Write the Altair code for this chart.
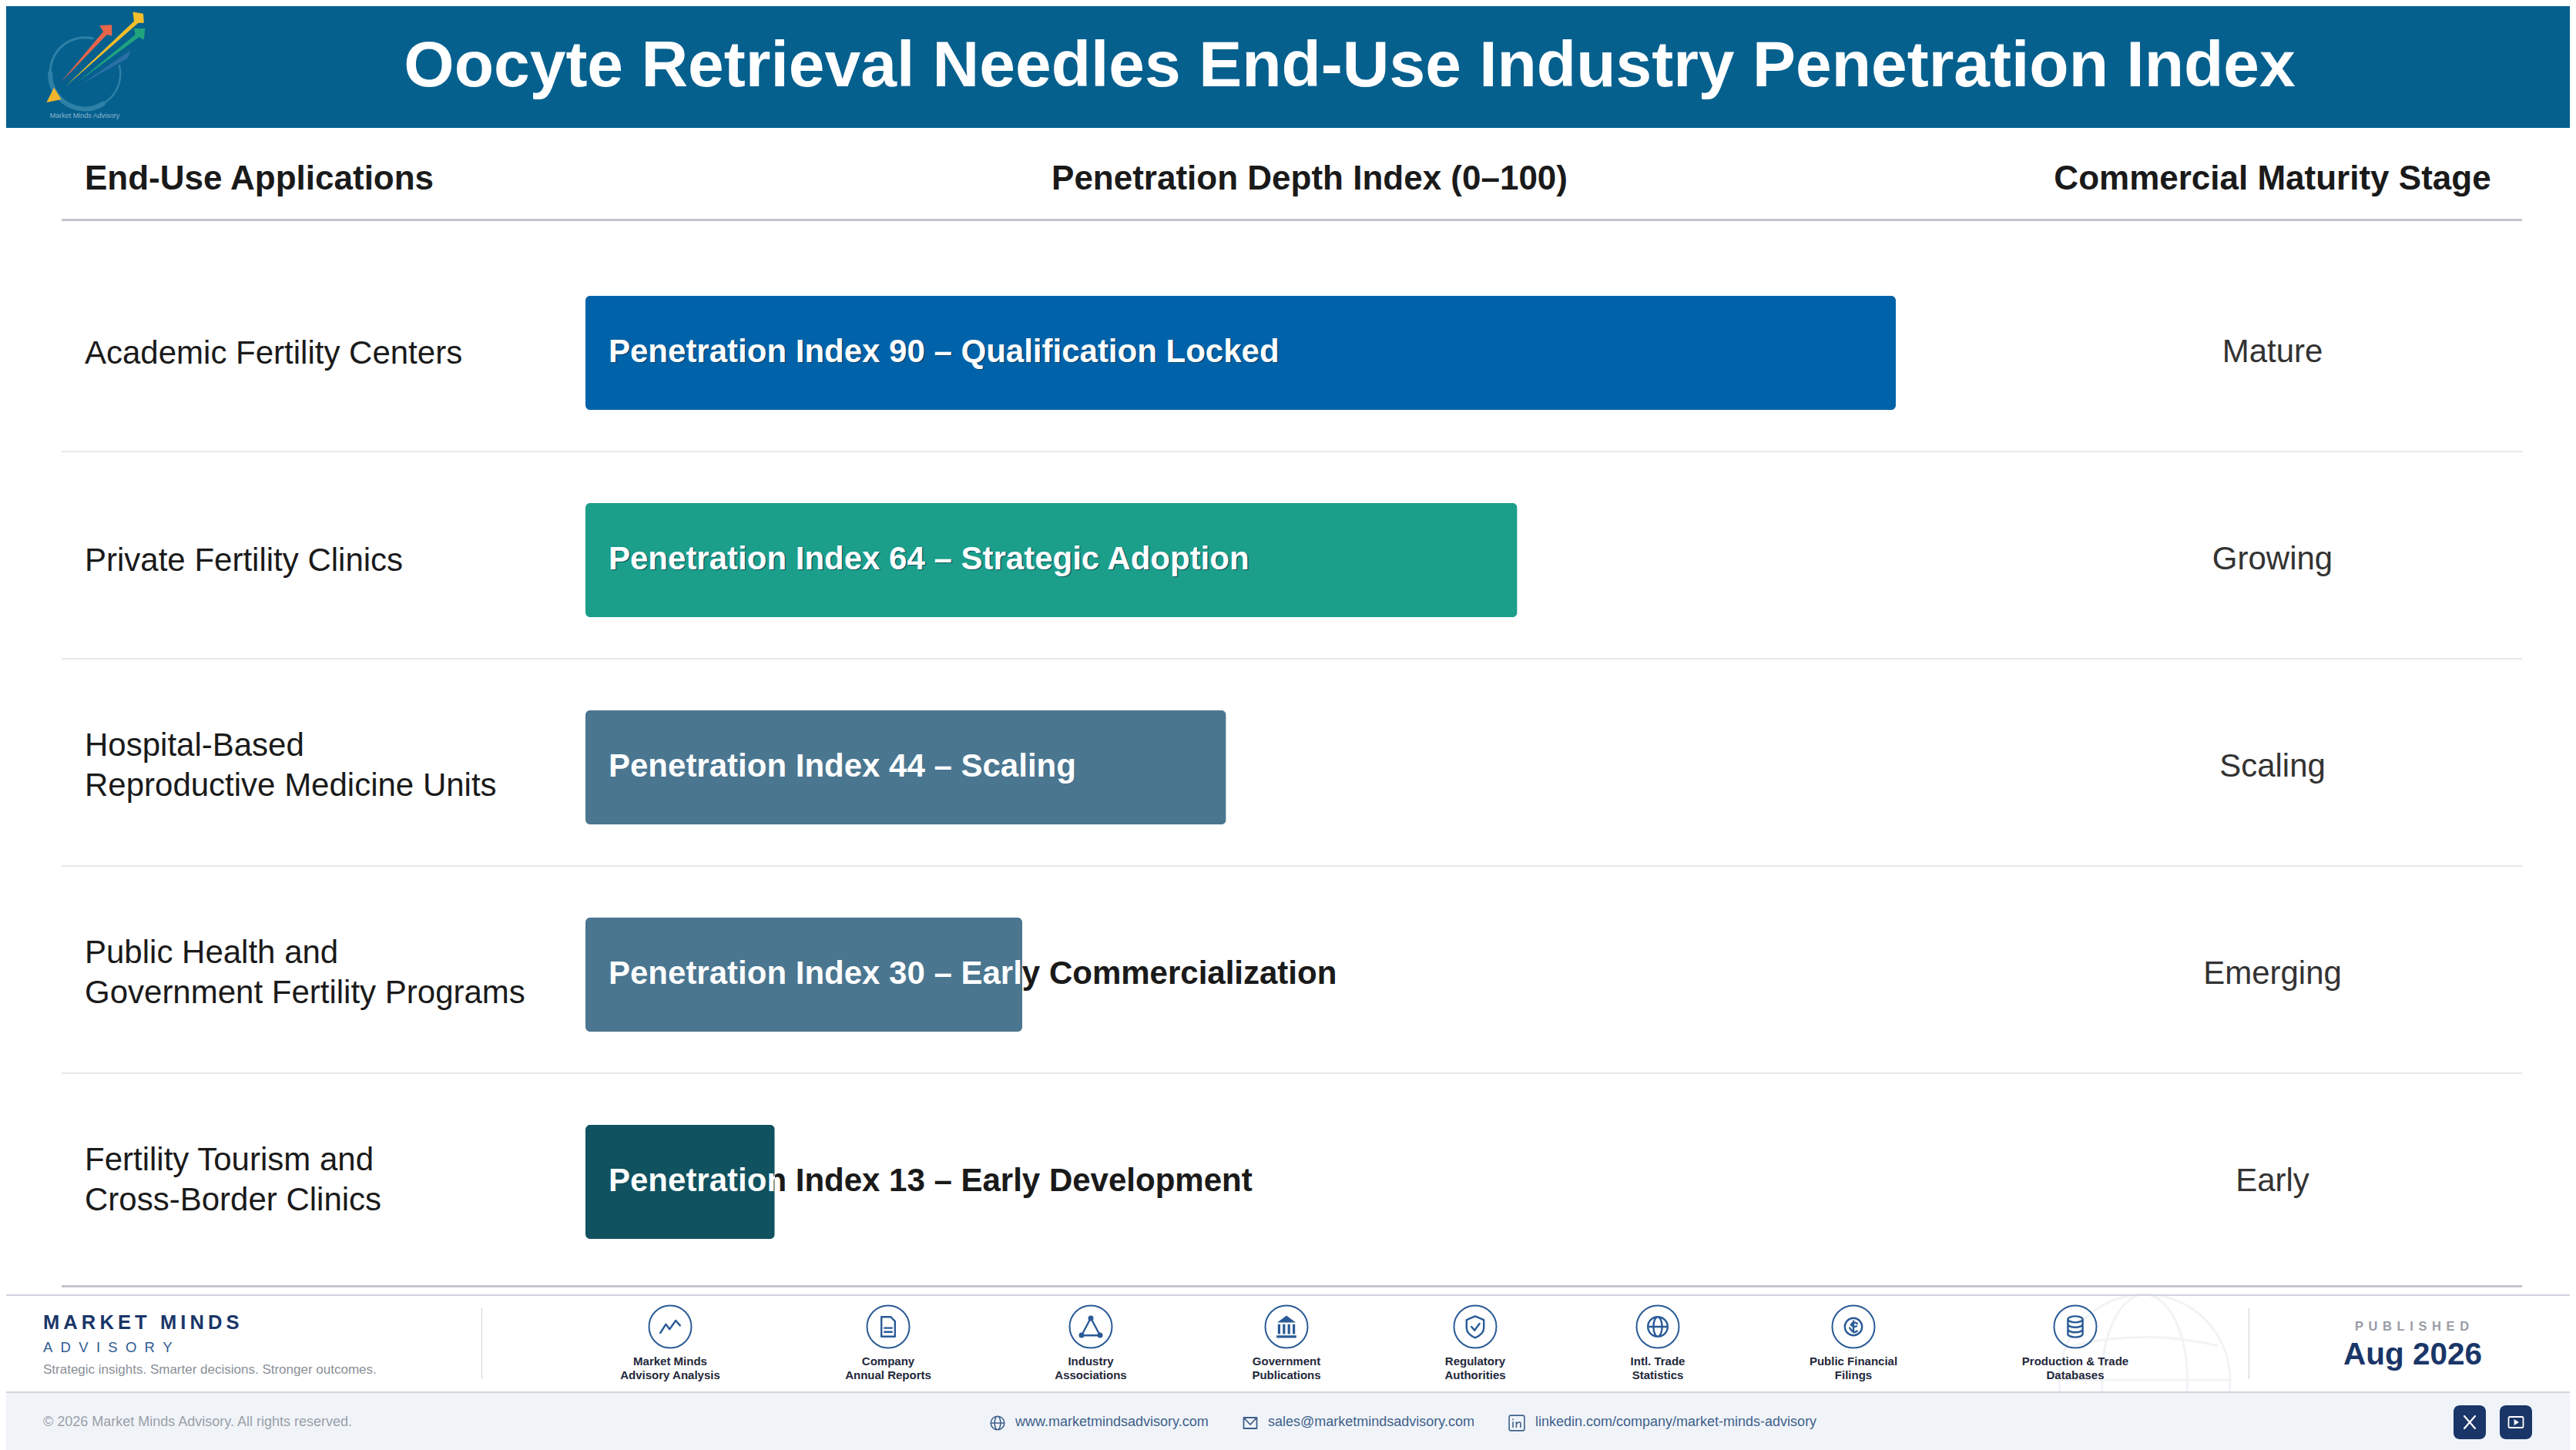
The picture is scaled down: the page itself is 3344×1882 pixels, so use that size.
import altair as alt
import pandas as pd

applications = [
    "Academic Fertility Centers",
    "Private Fertility Clinics",
    "Hospital-Based\nReproductive Medicine Units",
    "Public Health and\nGovernment Fertility Programs",
    "Fertility Tourism and\nCross-Border Clinics",
]
index_values = [90, 64, 44, 30, 13]
bar_labels = [
    "Penetration Index 90 – Qualification Locked",
    "Penetration Index 64 – Strategic Adoption",
    "Penetration Index 44 – Scaling",
    "Penetration Index 30 – Early Commercialization",
    "Penetration Index 13 – Early Development",
]
stages = ["Mature", "Growing", "Scaling", "Emerging", "Early"]
bar_colors = ["#0063A9", "#1B9E8A", "#4A7690", "#4A7690", "#10525F"]

source_labels = [
    "Market Minds\nAdvisory Analysis",
    "Company\nAnnual Reports",
    "Industry\nAssociations",
    "Government\nPublications",
    "Regulatory\nAuthorities",
    "Intl. Trade\nStatistics",
    "Public Financial\nFilings",
    "Production & Trade\nDatabases",
]
source_x = [870, 1153, 1416, 1670, 1915, 2152, 2406, 2694]

W, H = 3328, 1874
OFF = 8  # page margin, positions below are page pixels
FONT = "Liberation Sans"
NAVY = "#1A3668"
ICON = "#2A5B96"
DARK = "#1A1A1A"
TEXT_X = 790
PX_PER_UNIT = 18.9
BAR_X = 760

one = pd.DataFrame({"a": [0]})
layers = []


def rect(x1, x2, y1, y2, color, radius=0):
    layers.append(alt.Chart(one).mark_rect(color=color, cornerRadius=radius).encode(
        x=alt.value(x1 - OFF), x2=alt.value(x2 - OFF),
        y=alt.value(y1 - OFF), y2=alt.value(y2 - OFF)))


def label(text, x, y, size, color=DARK, bold=False, align="left", line_height=None):
    kw = {"lineHeight": line_height, "lineBreak": "\n"} if line_height else {}
    layers.append(alt.Chart(pd.DataFrame({"t": [text]})).mark_text(
        font=FONT, fontSize=size, color=color, align=align, baseline="middle",
        fontWeight="bold" if bold else "normal", **kw
    ).encode(x=alt.value(x - OFF), y=alt.value(y - OFF), text="t:N"))


def glyph(path, x, y, box, color=ICON, sw=2.0, filled=False):
    mark = dict(shape=path, size=box * box, opacity=1, filled=filled)
    if filled:
        mark.update(fill=color, strokeWidth=0)
    else:
        mark.update(stroke=color, strokeWidth=sw, strokeCap="round", strokeJoin="round")
    layers.append(alt.Chart(one).mark_point(**mark).encode(
        x=alt.value(x - OFF), y=alt.value(y - OFF)))


# header band and logo
rect(0, 3344, 0, 166, "#05608E")
logo_x, logo_y, logo_box = 110, 85, 160
glyph("M.125,-.44 A.5625,.5625 0 0 0 -.56,.125", logo_x, logo_y, logo_box, color="#2E80A6", sw=3)
glyph("M-.56,.125 A.5625,.5625 0 0 0 .3,.62", logo_x, logo_y, logo_box, color="#2E80A6", sw=6)
glyph("M.3,.62 A.5625,.5625 0 0 0 .5625,.0", logo_x, logo_y, logo_box, color="#2E80A6", sw=2.5)
glyph("M-.39,.275 L.3,-.55 L.24,-.65 L.44,-.66 L.44,-.48 L.36,-.5 Z", logo_x, logo_y, logo_box, "#E8654A", filled=True)
glyph("M-.325,.35 L.8,-.72 L.78,-.87 L.95,-.84 L.96,-.69 L.87,-.69 Z", logo_x, logo_y, logo_box, "#F4BE2C", filled=True)
glyph("M-.125,.275 L.82,-.5 L.8,-.6 L.98,-.6 L.96,-.42 L.88,-.46 Z", logo_x, logo_y, logo_box, "#1FA37D", filled=True)
glyph("M-.05,.3 L.75,-.25 L.7,-.12 Z", logo_x, logo_y, logo_box, "#2A6FA5", filled=True)
glyph("M-.62,.6 L-.5,.36 L-.38,.55 Z", logo_x, logo_y, logo_box, "#F4B52C", filled=True)
label("Market Minds Advisory", 110, 150, 9, color="#8FB4CC", align="center")
label("Oocyte Retrieval Needles End-Use Industry Penetration Index", 1752, 87, 84,
      color="white", bold=True, align="center")

# column headers and rules
label("End-Use Applications", 110, 233, 44, bold=True)
label("Penetration Depth Index (0–100)", 1700, 233, 44, bold=True, align="center")
label("Commercial Maturity Stage", 2950, 233, 44, bold=True, align="center")
rect(80, 3274, 284, 287, "#C4C4CC")
for sep_y in [585, 854, 1123, 1392]:
    rect(80, 3274, sep_y, sep_y + 2, "#E8E8E8")
rect(80, 3274, 1668, 1671, "#C4C4CC")

# rows
rows = pd.DataFrame({
    "application": applications,
    "value": index_values,
    "bar_label": bar_labels,
    "stage": stages,
    "color": bar_colors,
})
x_scale = alt.Scale(domain=[0, 100], range=[BAR_X - OFF, BAR_X - OFF + 100 * PX_PER_UNIT], nice=False)
y_scale = alt.Scale(domain=applications, range=[376, 1600], paddingInner=0.45, paddingOuter=0)
y_enc = alt.Y("application:N", scale=y_scale, axis=None)

layers.append(alt.Chart(rows).mark_bar(cornerRadius=6).encode(
    x=alt.X("value:Q", scale=x_scale, axis=None),
    y=y_enc,
    color=alt.Color("color:N", scale=None),
))
two_line = rows["application"].str.contains("\n")
for subset, shift in [(rows[~two_line], 1), (rows[two_line], -28)]:
    layers.append(alt.Chart(subset).mark_text(
        font=FONT, fontSize=42, color=DARK, align="left", baseline="middle",
        lineBreak="\n", lineHeight=52, dy=shift
    ).encode(x=alt.value(110 - OFF), y=y_enc, text="application:N"))
layers.append(alt.Chart(rows).mark_text(
    font=FONT, fontSize=42, color="#333333", align="center", baseline="middle", dy=-1
).encode(x=alt.value(2950 - OFF), y=y_enc, text="stage:N"))

# bar labels run past the short bars, white over the bar and dark after it
label_widths = [870, 830, 608, 945, 836]
for i, row in rows.iterrows():
    split = (BAR_X + row["value"] * PX_PER_UNIT - TEXT_X) / label_widths[i]
    if split >= 1:
        fill = "white"
    else:
        fill = {"gradient": "linear", "x1": 0, "y1": 0, "x2": 1, "y2": 0, "stops": [
            {"offset": split, "color": "white"}, {"offset": split, "color": DARK}]}
    text_kw = dict(font=FONT, fontSize=42, fontWeight="bold", align="left", baseline="middle")
    if i < 2:  # the two top labels have a soft shadow
        layers.append(alt.Chart(rows.iloc[[i]]).mark_text(
            fill="#0B2E45", opacity=0.6, dx=1.5, dy=0.5, **text_kw
        ).encode(x=alt.value(TEXT_X - OFF), y=y_enc, text="bar_label:N"))
    layers.append(alt.Chart(rows.iloc[[i]]).mark_text(
        fill=fill, dy=-1, **text_kw
    ).encode(x=alt.value(TEXT_X - OFF), y=y_enc, text="bar_label:N"))

# footer watermark globe, covered below by the contact band
wm = "#F1F3F5"
glyph("M-1,0 A1,1 0 1 1 1,0 A1,1 0 1 1 -1,0 M-1,0 H1 M0,-1 A.5,1 0 0 1 0,1 A.5,1 0 0 1 0,-1 M-.85,-.4 Q0,-.6 .85,-.4",
      2784, 1791, 222, color=wm, sw=3)

# footer lines and brand
rect(0, 3344, 1680, 1682, "#D0D3E0")
rect(625, 626, 1698, 1790, "#CBD0D8")
rect(2919, 2920, 1698, 1790, "#CBD0D8")
label("M\u2009A\u2009R\u2009K\u2009E\u2009T\u2009 \u2009M\u2009I\u2009N\u2009D\u2009S", 56, 1717, 25.5, color=NAVY, bold=True)
label("A\u00a0\u00a0D\u00a0\u00a0V\u00a0\u00a0I\u00a0\u00a0S\u00a0\u00a0O\u00a0\u00a0R\u00a0\u00a0Y", 56, 1749, 18.5, color="#2F5A92")
label("Strategic insights. Smarter decisions. Stronger outcomes.", 56, 1778, 17, color="#8A8F98")

# source icons
icon_paths = [
    "M-.8,.5 L-.35,-.2 L-.05,.2 L.45,-.5 L.8,-.1",
    "M-.55,-.8 H.2 L.55,-.45 V.8 H-.55 Z M-.3,.1 H.3 M-.3,.42 H.3",
    "M0,-.7 L-.75,.7 H.75 Z",
    "",
    "M0,-.85 L.7,-.55 V.1 Q.7,.6 0,.9 Q-.7,.6 -.7,.1 V-.55 Z M-.3,0 L-.05,.3 L.35,-.25",
    "M-.8,0 A.8,.8 0 1 1 .8,0 A.8,.8 0 1 1 -.8,0 M-.8,0 H.8 M0,-.8 A.35,.8 0 0 1 0,.8 A.35,.8 0 0 1 0,-.8",
    "M-.7,0 A.7,.7 0 1 1 .7,0 A.7,.7 0 1 1 -.7,0 M0,-.45 V.45 M.3,-.25 Q0,-.5 -.2,-.15 Q0,.1 .25,-.05 M-.3,.1 Q0,.6 .3,.35",
    "M-.6,-.6 A.6,.25 0 1 1 .6,-.6 A.6,.25 0 1 1 -.6,-.6 V.6 A.6,.25 0 0 0 .6,.6 V-.6 M-.6,-.2 A.6,.25 0 0 0 .6,-.2 M-.6,.2 A.6,.25 0 0 0 .6,.2",
]
bank = ("M-.75,-.35 L0,-.9 L.75,-.35 Z M-.7,-.2 H-.5 V.6 H-.7 Z M-.3,-.2 H-.1 V.6 H-.3 Z "
        "M.1,-.2 H.3 V.6 H.1 Z M.5,-.2 H.7 V.6 H.5 Z M-.8,.7 H.8 V.9 H-.8 Z")
for i, (cx, text) in enumerate(zip(source_x, source_labels)):
    glyph("circle", cx, 1722, 55, sw=2)
    if i == 3:
        glyph(bank, cx, 1722, 32, filled=True)
    else:
        glyph(icon_paths[i], cx, 1722, 32, sw=2.4)
    if i == 2:
        for dx, dy in [(0, -11), (-12, 11), (12, 11)]:
            glyph("circle", cx + dx, 1722 + dy, 7, filled=True)
    label(text, cx, 1767, 15, color="#23283A", bold=True, align="center", line_height=18)

# published box
label("P\u2009\u2009U\u2009\u2009B\u2009\u2009L\u2009\u2009I\u2009\u2009S\u2009\u2009H\u2009\u2009E\u2009\u2009D", 3131, 1722, 16.5,
      color="#9A9CA6", bold=True, align="center")
label("Aug 2026", 3132, 1759, 40.5, color=NAVY, bold=True, align="center")

# contact band
rect(0, 3344, 1806, 1882, "#F0F4F9")
rect(0, 3344, 1806, 1808, "#D0D3E0")
label("© 2026 Market Minds Advisory. All rights reserved.", 56, 1846, 18, color="#9A9FA8")
link_color = "#3F5F8A"
label("www.marketmindsadvisory.com", 1318, 1846, 18, color=link_color)
label("sales@marketmindsadvisory.com", 1646, 1846, 18, color=link_color)
label("linkedin.com/company/market-minds-advisory", 1993, 1846, 18, color=link_color)
glyph(icon_paths[5], 1295, 1847, 22, color=link_color, sw=1.6)
glyph("M-.85,-.7 H.85 V.7 H-.85 Z M-.85,-.7 L0,.2 L.85,-.7", 1623, 1847, 20, color=link_color, sw=1.8)
glyph("M-.7,-.9 H.7 Q.9,-.9 .9,-.7 V.7 Q.9,.9 .7,.9 H-.7 Q-.9,.9 -.9,.7 V-.7 Q-.9,-.9 -.7,-.9 Z M-.45,-.1 V.5 M-.45,-.45 V-.4 M-.05,.5 V-.1 M-.05,.1 Q.45,-.35 .45,.15 V.5",
      1969, 1847, 22, color=link_color, sw=1.6)
rect(3185, 3227, 1824, 1868, NAVY, radius=8)
rect(3245, 3287, 1824, 1868, NAVY, radius=8)
glyph("M-.7,-.8 L.7,.8 M.7,-.8 L-.7,.8", 3206, 1846, 20, color="white", sw=2.2)
glyph("M-.8,-.7 H.8 Q.95,-.7 .95,-.5 V.5 Q.95,.7 .8,.7 H-.8 Q-.95,.7 -.95,.5 V-.5 Q-.95,-.7 -.8,-.7 Z", 3266, 1846, 20, color="white", sw=1.8)
glyph("M-.3,-.5 L.5,0 L-.3,.5 Z", 3266, 1846, 16, color="white", filled=True)

chart = alt.layer(*layers).properties(
    width=W, height=H, padding=0, autosize="none"
).configure_view(stroke=None)

chart.save("out.html", embed_options={"renderer": "svg", "actions": False})
